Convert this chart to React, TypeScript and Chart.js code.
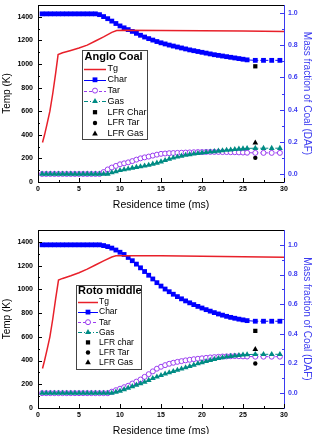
import { useEffect, useRef } from "react";
import { Chart, registerables } from "chart.js";

Chart.register(...registerables);

const FONT = "'Liberation Sans', Arial, Helvetica, sans-serif";

const RED = "#e8202a";
const BLUE = "#0000ff";
const AXIS_BLUE = "#3a3af0";
const VIOLET = "#9a3cf0";
const TEAL = "#008b84";

// residence times (ms) of the model output
const modelTimes = [
  0.5, 1, 1.5, 2, 2.5, 3, 3.5, 4, 4.5, 5, 5.5, 6, 6.5, 7, 7.5, 8, 8.5, 9, 9.5, 10,
  10.5, 11, 11.5, 12, 12.5, 13, 13.5, 14, 14.5, 15, 15.5, 16, 16.5, 17, 17.5, 18,
  18.5, 19, 19.5, 20, 20.5, 21, 21.5, 22, 22.5, 23, 23.5, 24, 24.5, 25, 25.5,
];
const tailTimes = [26.5, 27.5, 28.5, 29.5];
const lfrTimes = [26.5];

// axis ticks
const timeTicks = [0, 5, 10, 15, 20, 25, 30];
const timeMinor = [2.5, 7.5, 12.5, 17.5, 22.5, 27.5];
const tempTicks = [0, 200, 400, 600, 800, 1000, 1200, 1400];
const tempMinor = [100, 300, 500, 700, 900, 1100, 1300];
const fracTicks = [0, 0.2, 0.4, 0.6, 0.8, 1.0];
const fracMinor = [0.1, 0.3, 0.5, 0.7, 0.9];

// ---- Anglo Coal ----
const angloTgTimes = [0.55, 0.8, 1.1, 1.45, 1.8, 2.15, 2.45, 3, 4, 5, 6, 7, 8, 9, 9.6, 10.5, 15, 20, 25, 30];
const angloTg = [335, 400, 490, 600, 750, 920, 1080, 1095, 1115, 1135, 1160, 1195, 1230, 1268, 1283, 1285, 1284, 1282, 1279, 1276];
const angloChar = [
  0.995, 0.995, 0.995, 0.995, 0.995, 0.995, 0.995, 0.995, 0.995, 0.995, 0.995, 0.995, 0.995, 0.995,
  0.99, 0.978, 0.965, 0.95, 0.935, 0.92, 0.908, 0.897, 0.886, 0.874, 0.862, 0.851, 0.841, 0.832,
  0.823, 0.815, 0.808, 0.801, 0.795, 0.789, 0.783, 0.777, 0.771, 0.766, 0.761, 0.756, 0.751, 0.746,
  0.741, 0.737, 0.733, 0.729, 0.725, 0.721, 0.717, 0.713, 0.709,
];
const angloCharTail = [0.706, 0.706, 0.706, 0.706];
const angloTar = [
  0, 0, 0, 0, 0, 0, 0, 0, 0, 0, 0, 0, 0, 0, 0,
  0.012, 0.028, 0.04, 0.05, 0.06, 0.066, 0.072, 0.08, 0.089, 0.097, 0.103, 0.108, 0.114, 0.12,
  0.125, 0.127, 0.129, 0.13, 0.131, 0.132, 0.133, 0.134, 0.135, 0.136, 0.136, 0.137, 0.137, 0.137,
  0.137, 0.136, 0.136, 0.135, 0.135, 0.134, 0.133, 0.132,
];
const angloTarTail = [0.131, 0.131, 0.131, 0.131];
const angloGas = [
  0, 0, 0, 0, 0, 0, 0, 0, 0, 0, 0, 0, 0, 0, 0, 0, 0,
  0.008, 0.015, 0.022, 0.027, 0.032, 0.037, 0.042, 0.046, 0.05, 0.055, 0.062, 0.068, 0.076, 0.085,
  0.093, 0.1, 0.106, 0.112, 0.117, 0.121, 0.125, 0.128, 0.131, 0.134, 0.137, 0.14, 0.143, 0.145,
  0.148, 0.15, 0.153, 0.155, 0.157, 0.159,
];
const angloGasTail = [0.16, 0.16, 0.16, 0.16];
const angloLfrChar = [0.669];
const angloLfrTar = [0.1];
const angloLfrGas = [0.194];

// ---- Roto middle ----
const rotoTgTimes = [0.55, 0.8, 1.1, 1.45, 1.8, 2.15, 2.5, 3, 4, 5, 6, 7, 8, 9, 9.5, 10.5, 15, 20, 25, 30];
const rotoTg = [333, 400, 490, 600, 750, 920, 1078, 1092, 1115, 1140, 1170, 1205, 1240, 1272, 1282, 1284, 1282, 1279, 1275, 1271];
const rotoChar = [
  1, 1, 1, 1, 1, 1, 1, 1, 1, 1, 1, 1, 1, 1, 1,
  0.995, 0.988, 0.978, 0.965, 0.95, 0.935, 0.915, 0.893, 0.87, 0.845, 0.82, 0.795, 0.77, 0.745,
  0.722, 0.702, 0.684, 0.667, 0.651, 0.636, 0.622, 0.609, 0.597, 0.585, 0.574, 0.563, 0.553, 0.543,
  0.534, 0.526, 0.518, 0.511, 0.505, 0.499, 0.494, 0.489,
];
const rotoCharTail = [0.485, 0.485, 0.485, 0.485];
const rotoTar = [
  0, 0, 0, 0, 0, 0, 0, 0, 0, 0, 0, 0, 0, 0, 0, 0, 0,
  0.01, 0.02, 0.03, 0.04, 0.05, 0.065, 0.078, 0.092, 0.11, 0.128, 0.147, 0.165, 0.178, 0.189,
  0.198, 0.205, 0.211, 0.216, 0.221, 0.225, 0.229, 0.232, 0.235, 0.238, 0.241, 0.243, 0.245, 0.247,
  0.248, 0.249, 0.25, 0.249, 0.248, 0.247,
];
const rotoTarTail = [0.246, 0.246, 0.246, 0.246];
const rotoGas = [
  0, 0, 0, 0, 0, 0, 0, 0, 0, 0, 0, 0, 0, 0, 0, 0, 0, 0,
  0.008, 0.015, 0.025, 0.035, 0.045, 0.055, 0.065, 0.075, 0.087, 0.1, 0.11, 0.12, 0.13, 0.139,
  0.147, 0.156, 0.164, 0.172, 0.181, 0.19, 0.199, 0.207, 0.215, 0.222, 0.229, 0.235, 0.24, 0.245,
  0.249, 0.252, 0.255, 0.258, 0.26,
];
const rotoGasTail = [0.262, 0.262, 0.262, 0.262];
const rotoLfrChar = [0.42];
const rotoLfrTar = [0.2];
const rotoLfrGas = [0.295];

type Pt = { x: number; y: number };
const pts = (xs: number[], ys: number[]): Pt[] => xs.map((x, i) => ({ x, y: ys[i] }));

// dashed connection for the sparse end-of-reactor points
const tailSegment = {
  borderDash: (c: any) => (c.p0.parsed.x > 25.6 ? [3, 2] : undefined),
};

function drawMarker(ctx: CanvasRenderingContext2D, style: string, x: number, y: number, r: number, fill: string, stroke: string, lw: number) {
  ctx.beginPath();
  if (style === "rect") {
    const h = r * Math.SQRT1_2;
    ctx.rect(x - h, y - h, 2 * h, 2 * h);
  } else if (style === "triangle") {
    for (let k = 0; k < 3; k++) {
      const ang = (k * 2 * Math.PI) / 3;
      const px = x + Math.sin(ang) * r;
      const py = y - Math.cos(ang) * r;
      if (k === 0) ctx.moveTo(px, py);
      else ctx.lineTo(px, py);
    }
    ctx.closePath();
  } else {
    ctx.arc(x, y, r, 0, Math.PI * 2);
  }
  ctx.fillStyle = fill;
  ctx.fill();
  if (lw > 0) {
    ctx.strokeStyle = stroke;
    ctx.lineWidth = lw;
    ctx.stroke();
  }
}

// inward tick marks and the closing top edge of the frame
const axisFrame = {
  id: "axisFrame",
  afterDatasetsDraw(chart: any) {
    const { ctx, chartArea: a, scales } = chart;
    ctx.save();
    ctx.lineWidth = 1;
    ctx.strokeStyle = "#000";
    ctx.beginPath();
    ctx.moveTo(a.left, Math.round(a.top) + 0.5);
    ctx.lineTo(a.right, Math.round(a.top) + 0.5);
    ctx.stroke();
    const marks = (id: string, values: number[], len: number, color: string) => {
      const s = scales[id];
      ctx.strokeStyle = color;
      ctx.beginPath();
      values.forEach((v) => {
        const p = Math.round(s.getPixelForValue(v)) + 0.5;
        if (id === "x") {
          ctx.moveTo(p, a.bottom);
          ctx.lineTo(p, a.bottom - len);
        } else if (id === "yT") {
          ctx.moveTo(a.left, p);
          ctx.lineTo(a.left + len, p);
        } else {
          ctx.moveTo(a.right, p);
          ctx.lineTo(a.right - len, p);
        }
      });
      ctx.stroke();
    };
    marks("x", timeTicks, 4, "#000");
    marks("x", timeMinor, 2, "#000");
    marks("yT", tempTicks, 4, "#000");
    marks("yT", tempMinor, 2, "#000");
    marks("yF", fracTicks, 4, AXIS_BLUE);
    marks("yF", fracMinor, 2, AXIS_BLUE);
    ctx.restore();
  },
};

// boxed legend inside the plot area
const legendBox = {
  id: "legendBox",
  afterDraw(chart: any, _args: any, o: any) {
    if (!o || !o.title) return;
    const ctx: CanvasRenderingContext2D = chart.ctx;
    ctx.save();
    ctx.fillStyle = "#fff";
    ctx.fillRect(o.x, o.y, o.w, o.h);
    ctx.strokeStyle = "#444";
    ctx.lineWidth = 1;
    ctx.strokeRect(o.x + 0.5, o.y + 0.5, o.w, o.h);
    ctx.fillStyle = "#000";
    ctx.textBaseline = "middle";
    ctx.textAlign = "left";
    ctx.font = `bold 11px ${FONT}`;
    ctx.fillText(o.title, o.titleX, o.titleY);
    ctx.font = `${o.fontSize}px ${FONT}`;
    chart.data.datasets.forEach((ds: any, i: number) => {
      const y = o.rowY + i * o.rowGap;
      const cx = o.lineX + o.lineW / 2;
      if (ds.showLine !== false) {
        ctx.save();
        ctx.strokeStyle = ds.borderColor;
        ctx.lineWidth = ds.borderWidth;
        ctx.setLineDash(ds.legendDash || []);
        ctx.beginPath();
        ctx.moveTo(o.lineX, Math.round(y) + 0.5);
        ctx.lineTo(o.lineX + o.lineW, Math.round(y) + 0.5);
        ctx.stroke();
        ctx.restore();
      }
      if (ds.pointRadius > 0) {
        drawMarker(ctx, ds.pointStyle, cx, y, ds.pointRadius, ds.pointBackgroundColor, ds.pointBorderColor, ds.pointBorderWidth);
      }
      ctx.fillStyle = "#000";
      ctx.fillText(ds.label, o.textX, y);
    });
    ctx.restore();
  },
};

type Panel = {
  tgTimes: number[];
  tg: number[];
  char: number[];
  charTail: number[];
  tar: number[];
  tarTail: number[];
  gas: number[];
  gasTail: number[];
  lfr: number[][];
  lfrLabels: string[];
  fracMin: number;
  fracMax: number;
  padTop: number;
  xHeight: number;
  titlePad: number;
  legend: any;
};

const allTimes = modelTimes.concat(tailTimes);

function buildConfig(p: Panel): any {
  const datasets = [
    {
      label: "Tg",
      data: pts(p.tgTimes, p.tg),
      yAxisID: "yT",
      borderColor: RED,
      borderWidth: 1.5,
      pointRadius: 0,
      order: 1,
    },
    {
      label: "Char",
      data: pts(allTimes, p.char.concat(p.charTail)),
      yAxisID: "yF",
      borderColor: BLUE,
      borderWidth: 1,
      pointStyle: "rect",
      pointRadius: 3.4,
      pointBackgroundColor: BLUE,
      pointBorderColor: BLUE,
      pointBorderWidth: 0,
      segment: tailSegment,
      order: 3,
    },
    {
      label: "Tar",
      data: pts(allTimes, p.tar.concat(p.tarTail)),
      yAxisID: "yF",
      borderColor: VIOLET,
      borderWidth: 1,
      pointStyle: "circle",
      pointRadius: 2.5,
      pointBackgroundColor: "#fff",
      pointBorderColor: VIOLET,
      pointBorderWidth: 1,
      segment: tailSegment,
      legendDash: [3, 2],
      order: 4,
    },
    {
      label: "Gas",
      data: pts(allTimes, p.gas.concat(p.gasTail)),
      yAxisID: "yF",
      borderColor: TEAL,
      borderWidth: 1,
      pointStyle: "triangle",
      pointRadius: 3.4,
      pointBackgroundColor: TEAL,
      pointBorderColor: TEAL,
      pointBorderWidth: 0,
      segment: tailSegment,
      legendDash: [4, 2, 1, 2],
      order: 2,
    },
    ...["rect", "circle", "triangle"].map((style, k) => ({
      label: p.lfrLabels[k],
      data: pts(lfrTimes, p.lfr[k]),
      yAxisID: "yF",
      showLine: false,
      borderColor: "#000",
      borderWidth: 1,
      pointStyle: style,
      pointRadius: style === "circle" ? 2.2 : style === "rect" ? 3 : 3.3,
      pointBackgroundColor: "#000",
      pointBorderColor: "#000",
      pointBorderWidth: 0,
      order: 0,
    })),
  ];

  const tickFont = { family: FONT, size: 7, weight: "bold" as const };

  return {
    type: "line",
    data: { datasets },
    options: {
      responsive: false,
      animation: false,
      events: [],
      layout: { padding: { top: p.padTop, left: 0, right: 0, bottom: 0 } },
      plugins: {
        legend: { display: false },
        tooltip: { enabled: false },
        legendBox: p.legend,
      },
      scales: {
        x: {
          type: "linear",
          position: "bottom",
          min: 0,
          max: 30,
          grid: { display: false, drawTicks: false },
          border: { display: true, color: "#000", width: 1 },
          ticks: { font: tickFont, color: "#000", padding: 3, maxRotation: 0, callback: (v: number) => String(v) },
          afterBuildTicks: (s: any) => {
            s.ticks = timeTicks.map((value) => ({ value }));
          },
          afterFit: (s: any) => {
            s.height = p.xHeight;
            s.paddingLeft = 0;
            s.paddingRight = 0;
          },
          title: {
            display: true,
            text: "Residence time (ms)",
            color: "#000",
            font: { family: FONT, size: 10.5 },
            padding: { top: 0, bottom: p.titlePad },
          },
        },
        yT: {
          type: "linear",
          position: "left",
          min: 0,
          max: 1500,
          grid: { display: false, drawTicks: false },
          border: { display: true, color: "#000", width: 1 },
          ticks: { font: tickFont, color: "#000", padding: 5, callback: (v: number) => String(v) },
          afterBuildTicks: (s: any) => {
            s.ticks = tempTicks.map((value) => ({ value }));
          },
          afterFit: (s: any) => {
            s.width = 38;
            s.paddingTop = 0;
            s.paddingBottom = 0;
          },
          title: {
            display: true,
            text: "Temp (K)",
            color: "#000",
            font: { family: FONT, size: 10 },
            padding: { top: 1, bottom: 0 },
          },
        },
        yF: {
          type: "linear",
          position: "right",
          min: p.fracMin,
          max: p.fracMax,
          grid: { display: false, drawTicks: false },
          border: { display: true, color: AXIS_BLUE, width: 1 },
          ticks: { font: tickFont, color: AXIS_BLUE, padding: 4, callback: (v: number) => v.toFixed(1) },
          afterBuildTicks: (s: any) => {
            s.ticks = fracTicks.map((value) => ({ value }));
          },
          afterFit: (s: any) => {
            s.width = 32;
            s.paddingTop = 0;
            s.paddingBottom = 0;
          },
          title: {
            display: true,
            text: "Mass fraction of Coal (DAF)",
            color: AXIS_BLUE,
            font: { family: FONT, size: 10 },
            padding: { top: 3, bottom: 0 },
          },
        },
      },
    },
    plugins: [axisFrame, legendBox],
  };
}

const angloPanel: Panel = {
  tgTimes: angloTgTimes,
  tg: angloTg,
  char: angloChar,
  charTail: angloCharTail,
  tar: angloTar,
  tarTail: angloTarTail,
  gas: angloGas,
  gasTail: angloGasTail,
  lfr: [angloLfrChar, angloLfrTar, angloLfrGas],
  lfrLabels: ["LFR Char", "LFR Tar", "LFR Gas"],
  fracMin: -0.05,
  fracMax: 1.05,
  padTop: 3,
  xHeight: 35,
  titlePad: 6,
  legend: {
    title: "Anglo Coal",
    x: 82, y: 50, w: 65, h: 89,
    titleX: 84.5, titleY: 57,
    rowY: 69, rowGap: 10.8,
    lineX: 84, lineW: 22, textX: 107.5,
    fontSize: 9,
  },
};

const rotoPanel: Panel = {
  tgTimes: rotoTgTimes,
  tg: rotoTg,
  char: rotoChar,
  charTail: rotoCharTail,
  tar: rotoTar,
  tarTail: rotoTarTail,
  gas: rotoGas,
  gasTail: rotoGasTail,
  lfr: [rotoLfrChar, rotoLfrTar, rotoLfrGas],
  lfrLabels: ["LFR char", "LFR Tar", "LFR Gas"],
  fracMin: -0.1,
  fracMax: 1.1,
  padTop: 13,
  xHeight: 39,
  titlePad: 10,
  legend: {
    title: "Roto middle",
    x: 76, y: 68, w: 65, h: 84,
    titleX: 78, titleY: 73.5,
    rowY: 85, rowGap: 10.1,
    lineX: 78, lineW: 20, textX: 99,
    fontSize: 8.5,
  },
};

function ChartCanvas({ panel, top, height }: { panel: Panel; top: number; height: number }) {
  const ref = useRef<HTMLCanvasElement | null>(null);
  useEffect(() => {
    if (!ref.current) return;
    const chart = new Chart(ref.current, buildConfig(panel));
    return () => chart.destroy();
  }, [panel]);
  return (
    <canvas
      ref={ref}
      width={316}
      height={height}
      style={{ position: "absolute", left: 0, top, width: 316, height, display: "block" }}
    />
  );
}

export default function App() {
  return (
    <div
      style={{
        position: "fixed",
        left: 0,
        top: 0,
        width: 316,
        height: 434,
        overflow: "hidden",
        background: "#fff",
      }}
    >
      <ChartCanvas panel={angloPanel} top={0} height={217} />
      <ChartCanvas panel={rotoPanel} top={217} height={230} />
    </div>
  );
}
